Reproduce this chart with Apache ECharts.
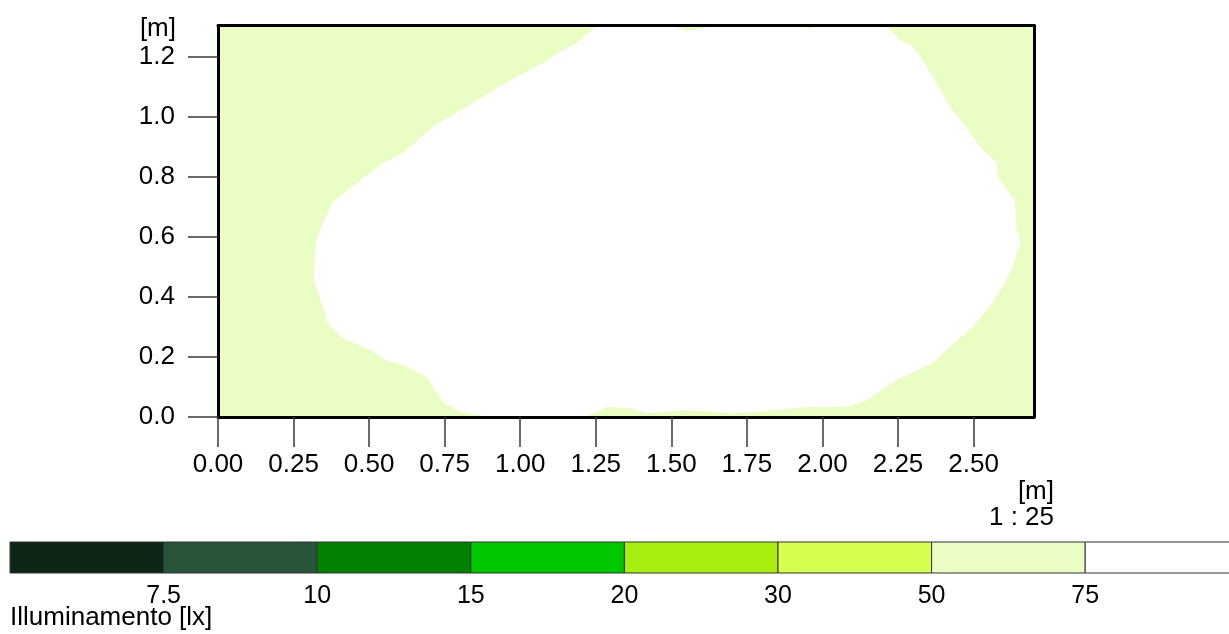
<!DOCTYPE html>
<html>
<head>
<meta charset="utf-8">
<script src="https://cdn.jsdelivr.net/npm/echarts@6/dist/echarts.min.js"></script>
<style>
  html, body { margin: 0; padding: 0; background: #fff; }
  #chart { width: 1229px; height: 634px; }
</style>
</head>
<body>
<div id="chart"></div>
<script>
// ---- data ----
const roomX = [0, 2.7];
const roomY = [0, 1.305];
const xTicks = [0, 0.25, 0.5, 0.75, 1.0, 1.25, 1.5, 1.75, 2.0, 2.25, 2.5];
const yTicks = [0, 0.2, 0.4, 0.6, 0.8, 1.0, 1.2];
const legendLevels = ['7.5', '10', '15', '20', '30', '50', '75'];
const legendColors = ['#0e2616', '#28553a', '#008200', '#00c800', '#aaee11', '#d4fe50', '#e9fdc5', '#ffffff'];

// whole room: 50-75 lx band
const region50to75 = [[0, 0], [2.7, 0], [2.7, 1.305], [0, 1.305]];
// region above 75 lx (white)
const regionAbove75 = [
  [1.253, 1.305], [1.495, 1.305], [1.554, 1.287], [1.650, 1.305], [1.935, 1.305], [1.958, 1.293],
  [1.991, 1.305], [2.212, 1.305], [2.255, 1.257], [2.298, 1.237], [2.331, 1.19], [2.378, 1.113],
  [2.421, 1.033], [2.464, 0.98], [2.530, 0.89], [2.576, 0.85], [2.579, 0.80], [2.636, 0.723],
  [2.642, 0.633], [2.655, 0.583], [2.629, 0.50], [2.603, 0.447], [2.553, 0.367], [2.497, 0.30],
  [2.421, 0.233], [2.364, 0.18], [2.245, 0.123], [2.212, 0.10], [2.146, 0.057], [2.090, 0.037],
  [2.034, 0.033], [1.948, 0.033], [1.815, 0.02], [1.703, 0.013], [1.551, 0.023], [1.419, 0.013],
  [1.362, 0.03], [1.286, 0.033], [1.230, 0.007], [1.214, 0.0], [0.899, 0.0], [0.876, 0.003],
  [0.800, 0.017], [0.744, 0.05], [0.718, 0.09], [0.691, 0.133], [0.612, 0.173], [0.559, 0.187],
  [0.503, 0.223], [0.410, 0.263], [0.360, 0.317], [0.354, 0.347], [0.327, 0.423], [0.317, 0.457],
  [0.324, 0.583], [0.344, 0.64], [0.380, 0.717], [0.493, 0.807], [0.546, 0.847], [0.612, 0.88],
  [0.718, 0.973], [0.833, 1.04], [0.923, 1.097], [0.999, 1.14], [1.081, 1.183], [1.131, 1.217],
  [1.187, 1.247]
];
const regions = [region50to75, regionAbove75];
const regionColors = ['#e9fdc5', '#ffffff'];

// ---- chart ----
const FONT = 'Liberation Sans, Arial, sans-serif';
const chart = echarts.init(document.getElementById('chart'), null, { renderer: 'canvas' });

const legendLeft = 10, legendTop = 542, legendH = 31, bandW = 153.6;
const legendGraphics = [];
legendColors.forEach((c, i) => {
  legendGraphics.push({
    type: 'rect', silent: true,
    shape: { x: legendLeft + i * bandW, y: legendTop, width: bandW, height: legendH },
    style: { fill: c, stroke: '#333', lineWidth: 1 }
  });
});
legendLevels.forEach((t, i) => {
  legendGraphics.push({
    type: 'text', silent: true,
    x: legendLeft + (i + 1) * bandW, y: 596,
    style: { text: t, fontSize: 25, fontFamily: FONT, fill: '#000', align: 'center', verticalAlign: 'middle' }
  });
});
legendGraphics.push({
  type: 'text', silent: true, x: 10, y: 618,
  style: { text: 'Illuminamento [lx]', fontSize: 26, fontFamily: FONT, fill: '#000', align: 'left', verticalAlign: 'middle' }
});
legendGraphics.push({
  type: 'text', silent: true, x: 176, y: 29,
  style: { text: '[m]', fontSize: 26, fontFamily: FONT, fill: '#000', align: 'right', verticalAlign: 'middle' }
});
legendGraphics.push({
  type: 'text', silent: true, x: 1054, y: 492,
  style: { text: '[m]', fontSize: 26, fontFamily: FONT, fill: '#000', align: 'right', verticalAlign: 'middle' }
});
legendGraphics.push({
  type: 'text', silent: true, x: 1054, y: 518,
  style: { text: '1 : 25', fontSize: 26, fontFamily: FONT, fill: '#000', align: 'right', verticalAlign: 'middle' }
});

const frameLine = { show: true, onZero: false, lineStyle: { color: '#000', width: 3 } };

const option = {
  animation: false,
  backgroundColor: '#ffffff',
  grid: { left: 218, top: 25.5, width: 816, height: 391.5 },
  xAxis: [
    {
      type: 'value', min: roomX[0], max: roomX[1], interval: 0.25, position: 'bottom', z: 5,
      axisLine: frameLine,
      axisTick: { show: true, length: 30, customValues: xTicks, lineStyle: { color: '#3a3a3a', width: 1.5 } },
      axisLabel: { customValues: xTicks, formatter: v => v.toFixed(2), margin: 35, fontSize: 26, fontFamily: FONT, color: '#000' },
      splitLine: { show: false }
    },
    {
      type: 'value', min: roomX[0], max: roomX[1], position: 'top', z: 5,
      axisLine: frameLine, axisTick: { show: false }, axisLabel: { show: false }, splitLine: { show: false }
    }
  ],
  yAxis: [
    {
      type: 'value', min: roomY[0], max: roomY[1], interval: 0.2, position: 'left', z: 5,
      axisLine: frameLine,
      axisTick: { show: true, length: 30, customValues: yTicks, lineStyle: { color: '#3a3a3a', width: 1.5 } },
      axisLabel: { customValues: yTicks, formatter: v => v.toFixed(1), margin: 43, fontSize: 26, fontFamily: FONT, color: '#000' },
      splitLine: { show: false }
    },
    {
      type: 'value', min: roomY[0], max: roomY[1], position: 'right', z: 5,
      axisLine: frameLine, axisTick: { show: false }, axisLabel: { show: false }, splitLine: { show: false }
    }
  ],
  series: [{
    type: 'custom',
    xAxisIndex: 0, yAxisIndex: 0,
    z: 2,
    silent: true,
    data: regions.map((r, i) => [r[0][0], r[0][1], i]),
    renderItem: function (params, api) {
      const idx = params.dataIndex;
      const pts = regions[idx].map(p => api.coord(p));
      return {
        type: 'polygon',
        shape: { points: pts },
        style: { fill: regionColors[idx], stroke: null }
      };
    }
  }],
  graphic: legendGraphics
};
chart.setOption(option);
</script>
</body>
</html>
